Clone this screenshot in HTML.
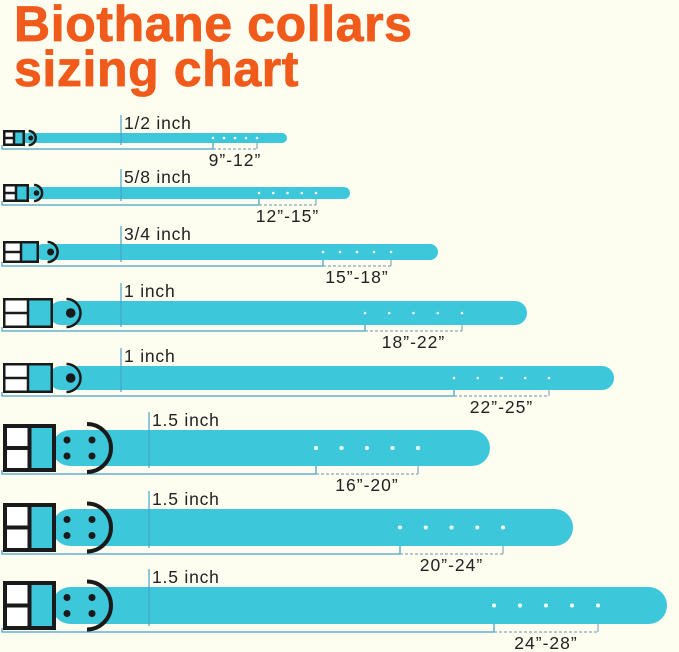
<!DOCTYPE html>
<html><head><meta charset="utf-8"><style>
html,body{margin:0;padding:0;background:#FDFDF0;}
svg{display:block}
</style></head><body>
<svg id="s" width="679" height="652" xmlns="http://www.w3.org/2000/svg" font-family="Liberation Sans, sans-serif">
<rect width="679" height="652" fill="#FDFDF0"/>
<text x="14" y="41" font-size="50" font-weight="bold" fill="#F05A1A" letter-spacing="0.6" stroke="#F05A1A" stroke-width="0.8">Biothane collars</text>
<text x="14" y="86" font-size="50" font-weight="bold" fill="#F05A1A" letter-spacing="0.6" stroke="#F05A1A" stroke-width="0.8">sizing chart</text>
</svg>
<script>
var rows=[
 {t:133,h:10,e:287,bw:22,wx:121,bx:213,dx:257,lab:'9\u201d-12\u201d',w:'1/2 inch'},
 {t:187,h:12,e:350,bw:26,wx:121,bx:259,dx:316,lab:'12\u201d-15\u201d',w:'5/8 inch'},
 {t:244,h:16,e:438,bw:36,wx:121,bx:323,dx:391,lab:'15\u201d-18\u201d',w:'3/4 inch'},
 {t:301,h:24,e:527,bw:50,wx:121,bx:365,dx:462,lab:'18\u201d-22\u201d',w:'1 inch'},
 {t:366,h:24,e:614,bw:50,wx:121,bx:454,dx:549,lab:'22\u201d-25\u201d',w:'1 inch'},
 {t:430,h:36,e:490,bw:53,wx:149,bx:316,dx:418,lab:'16\u201d-20\u201d',w:'1.5 inch'},
 {t:509,h:37,e:573,bw:53,wx:149,bx:400,dx:503,lab:'20\u201d-24\u201d',w:'1.5 inch'},
 {t:587,h:37,e:667,bw:53,wx:149,bx:494,dx:598,lab:'24\u201d-28\u201d',w:'1.5 inch'}
];
var S='#3CC7DA',L='#4AA3C8',out='';
rows.forEach(function(r,i){
 var cy=r.t+r.h/2, big=i>=5;
 var bh=big?r.h+12:r.h+6, bt=cy-bh/2, bl=3, bw=r.bw;
 var sx=bl+bw-4;
 out+='<rect x="'+sx+'" y="'+r.t+'" width="'+(r.e-sx)+'" height="'+r.h+'" rx="'+(r.h/2)+'" fill="'+S+'"/>';
 var by=r.t+r.h+(big?8:6);
 out+='<path d="M2 '+(by-4)+'V'+by+'H'+r.bx+'V'+(r.t+r.h)+'" stroke="'+L+'" stroke-width="1.3" fill="none"/>';
 out+='<path d="M'+r.bx+' '+by+'H'+r.dx+'" stroke="#8ab" stroke-width="1.2" stroke-dasharray="3,2" fill="none"/>';
 out+='<path d="M'+r.dx+' '+by+'V'+(r.t+r.h)+'" stroke="#8ab" stroke-width="1.2" fill="none"/>';
 for(var k=0;k<5;k++){var hx=r.bx+(r.dx-r.bx)*k/4;out+='<circle cx="'+hx+'" cy="'+cy+'" r="'+(big?2:1.3)+'" fill="#fff"/>';}
 out+='<path d="M'+r.wx+' '+(r.t-18)+'V'+(r.t+r.h+2)+'" stroke="'+L+'" stroke-width="1.2"/>';
 out+='<text x="'+(r.wx+3)+'" y="'+(r.t-4)+'" font-size="17.5" fill="#222" letter-spacing="0.8">'+r.w+'</text>';
 out+='<text x="'+((r.bx+r.dx)/2)+'" y="'+(by+17)+'" font-size="17.5" fill="#222" letter-spacing="1" text-anchor="middle">'+r.lab+'</text>';
 var hw=bw/2;
 out+='<rect x="'+bl+'" y="'+bt+'" width="'+bw+'" height="'+bh+'" fill="#1a1a1a"/>';
 var b=big?4:2.5;
 out+='<rect x="'+(bl+b)+'" y="'+(bt+b)+'" width="'+(hw-b*1.5)+'" height="'+(bh/2-b*1.5)+'" fill="#fff"/>';
 out+='<rect x="'+(bl+b)+'" y="'+(cy+b/2)+'" width="'+(hw-b*1.5)+'" height="'+(bh/2-b*1.5)+'" fill="#fff"/>';
 out+='<rect x="'+(bl+hw+b/2)+'" y="'+(bt+b)+'" width="'+(hw-b*1.5)+'" height="'+(bh-2*b)+'" fill="'+S+'"/>';
 var rr,rx;
 if(big){rr=24;rx=87;}else{rr=r.h/2+2;rx=sx+bw*0.35;}
 out+='<path d="M'+rx+' '+(cy-rr)+'A'+rr+' '+rr+' 0 0 1 '+rx+' '+(cy+rr)+'" stroke="#1a1a1a" stroke-width="'+(big?4:2.5)+'" fill="none"/>';
 if(!big){out+='<circle cx="'+(rx+rr*0.3)+'" cy="'+cy+'" r="'+(r.h/6+0.8)+'" fill="#1a1a1a"/>';}
 else{[67,92].forEach(function(x){out+='<circle cx="'+x+'" cy="'+(cy-8)+'" r="3.5" fill="#1a1a1a"/><circle cx="'+x+'" cy="'+(cy+8)+'" r="3.5" fill="#1a1a1a"/>';});}
});
document.getElementById('s').insertAdjacentHTML('beforeend',out);
</script>
</body></html>
